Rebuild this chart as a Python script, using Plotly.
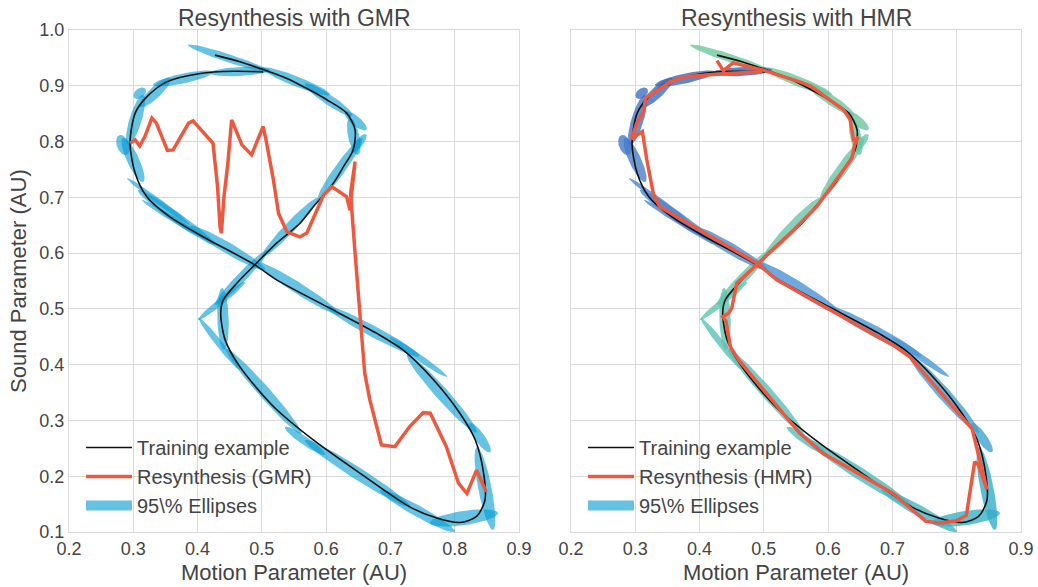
import numpy as np
import plotly.graph_objects as go
from plotly.colors import sample_colorscale

# Training trajectory (motion parameter, sound parameter)
train_x = [0.427, 0.466, 0.497, 0.539, 0.570, 0.601, 0.632, 0.645, 0.642, 0.627, 0.611, 0.580,
           0.559, 0.523, 0.489, 0.461, 0.440, 0.436, 0.443, 0.466, 0.518, 0.580, 0.653, 0.730,
           0.772, 0.808, 0.834, 0.847, 0.845, 0.832, 0.808, 0.767, 0.720, 0.679, 0.601, 0.523,
           0.489, 0.409, 0.357, 0.321, 0.303, 0.295, 0.303, 0.321, 0.352, 0.404, 0.456, 0.502]
train_y = [0.955, 0.943, 0.931, 0.913, 0.895, 0.875, 0.851, 0.821, 0.785, 0.755, 0.725, 0.683,
           0.653, 0.618, 0.579, 0.546, 0.516, 0.492, 0.444, 0.396, 0.325, 0.265, 0.205, 0.145,
           0.125, 0.117, 0.128, 0.157, 0.205, 0.265, 0.313, 0.373, 0.426, 0.456, 0.504, 0.552,
           0.579, 0.629, 0.665, 0.701, 0.743, 0.797, 0.851, 0.880, 0.907, 0.922, 0.926, 0.925]

# Resynthesis with GMR
gmr_x = [0.295, 0.303, 0.310, 0.318, 0.329, 0.336, 0.353, 0.362, 0.386, 0.393, 0.424, 0.431,
         0.435, 0.437, 0.441, 0.447, 0.453, 0.469, 0.484, 0.502, 0.507, 0.518, 0.526, 0.539,
         0.559, 0.570, 0.596, 0.609, 0.632, 0.637, 0.645, 0.638, 0.645, 0.652, 0.655, 0.660,
         0.668, 0.686, 0.707, 0.730, 0.751, 0.762, 0.787, 0.806, 0.819, 0.834, 0.849]
gmr_y = [0.797, 0.803, 0.792, 0.809, 0.842, 0.833, 0.784, 0.785, 0.833, 0.837, 0.797, 0.720,
         0.647, 0.636, 0.700, 0.760, 0.839, 0.794, 0.776, 0.827, 0.800, 0.731, 0.671, 0.638,
         0.629, 0.636, 0.704, 0.719, 0.701, 0.677, 0.764, 0.707, 0.600, 0.490, 0.462, 0.385,
         0.337, 0.256, 0.253, 0.289, 0.314, 0.313, 0.253, 0.187, 0.169, 0.211, 0.172]

# Resynthesis with HMR
hmr_x = [0.427, 0.437, 0.452, 0.499, 0.556, 0.572, 0.624, 0.634, 0.640, 0.647, 0.641, 0.637,
         0.582, 0.566, 0.546, 0.486, 0.458, 0.450, 0.445, 0.436, 0.441, 0.448, 0.461, 0.556,
         0.592, 0.701, 0.752, 0.774, 0.800, 0.815, 0.828, 0.834, 0.847, 0.824, 0.727, 0.701,
         0.600, 0.520, 0.489, 0.338, 0.328, 0.318, 0.311, 0.294, 0.302, 0.313, 0.316, 0.354,
         0.375, 0.442, 0.497]
hmr_y = [0.945, 0.927, 0.941, 0.928, 0.907, 0.900, 0.857, 0.840, 0.800, 0.808, 0.794, 0.770,
         0.683, 0.665, 0.641, 0.576, 0.546, 0.501, 0.492, 0.486, 0.478, 0.432, 0.408, 0.277,
         0.241, 0.169, 0.119, 0.116, 0.120, 0.130, 0.226, 0.220, 0.176, 0.285, 0.414, 0.435,
         0.500, 0.552, 0.582, 0.683, 0.707, 0.767, 0.818, 0.805, 0.832, 0.854, 0.878, 0.907,
         0.916, 0.922, 0.925]

# 95% confidence ellipses of the model states, in time order:
# centre, semi-major, semi-minor, orientation (degrees)
ell_cx = [0.449, 0.553, 0.604, 0.646, 0.643, 0.651, 0.6216, 0.5438, 0.4683, 0.4373, 0.4396,
          0.4341, 0.503, 0.5671, 0.6488, 0.742, 0.8144, 0.847, 0.8392, 0.780, 0.7436, 0.6725,
          0.557, 0.4466, 0.3672, 0.3392, 0.3642, 0.2996, 0.284, 0.3035, 0.310, 0.3338, 0.3774,
          0.466]
ell_cy = [0.949, 0.908, 0.875, 0.837, 0.809, 0.797, 0.7508, 0.6459, 0.5563, 0.5142, 0.4819,
          0.4371, 0.352, 0.2632, 0.2050, 0.1377, 0.1252, 0.178, 0.2691, 0.348, 0.4137, 0.460,
          0.5366, 0.6092, 0.6639, 0.6926, 0.6594, 0.767, 0.7938, 0.8387, 0.8866, 0.888, 0.913,
          0.9256]
ell_a = [0.0682, 0.0582, 0.0465, 0.023, 0.0337, 0.0195, 0.0653, 0.0685, 0.0642, 0.050, 0.0556,
         0.0565, 0.096, 0.040, 0.1014, 0.0694, 0.0537, 0.0754, 0.0306, 0.0884, 0.057, 0.0853,
         0.0802, 0.0704, 0.0776, 0.0646, 0.062, 0.0424, 0.0187, 0.0463, 0.0118, 0.0349, 0.0481,
         0.0468]
ell_b = [0.0072, 0.0088, 0.0088, 0.008, 0.0088, 0.0064, 0.0088, 0.0088, 0.008, 0.0056, 0.0088,
         0.0056, 0.0096, 0.0072, 0.0104, 0.0096, 0.0128, 0.0104, 0.008, 0.0104, 0.0056, 0.0096,
         0.0096, 0.0096, 0.0088, 0.0048, 0.0048, 0.0096, 0.0096, 0.0096, 0.008, 0.0096, 0.0088,
         0.008]
ell_ang = [-20.8, -24.6, -38.1, -44.6, -79.4, 56.0, 58.4, 50.5, 50.1, 43.0, 91.6, -55.6, -52.6,
           -38.9, -36.3, -32.8, 9.6, -80.5, -59.4, -52.4, -38.9, -31.8, -36.3, -34.1, -39.5,
           -40.7, -35.3, -68.5, -74.0, 75.4, 49.0, 48.0, 14.0, 3.3]

x_ticks = [0.2, 0.3, 0.4, 0.5, 0.6, 0.7, 0.8, 0.9]
y_ticks = [0.1, 0.2, 0.3, 0.4, 0.5, 0.6, 0.7, 0.8, 0.9, 1.0]

FONT = "Liberation Sans, Arial, sans-serif"
TEXT = "#444444"
GRID = "#dadada"
RED = "#EE583E"
ELL_BLUE = "rgba(0,155,210,0.6)"
time_scale = [[0.00, "rgb(110,200,155)"], [0.25, "rgb(100,198,170)"], [0.40, "rgb(80,190,190)"],
              [0.50, "rgb(50,175,200)"], [0.60, "rgb(70,155,215)"], [0.80, "rgb(75,130,205)"],
              [1.00, "rgb(55,100,185)"]]


def ellipse_outline(cx, cy, a, b, ang, n=80):
    t = np.linspace(0, 2 * np.pi, n)
    th = np.deg2rad(ang)
    x = cx + a * np.cos(t) * np.cos(th) - b * np.sin(t) * np.sin(th)
    y = cy + a * np.cos(t) * np.sin(th) + b * np.sin(t) * np.cos(th)
    return x, y


fig = go.Figure()
n_ell = len(ell_cx)
right_cols = sample_colorscale(time_scale, [i / (n_ell - 1) for i in range(n_ell)])

panels = [
    ("x", "y", "legend", gmr_x, gmr_y, "Resynthesis (GMR)", [ELL_BLUE] * n_ell, 1.0),
    ("x2", "y2", "legend2", hmr_x, hmr_y, "Resynthesis (HMR)", right_cols, 0.8),
]

for xa, ya, leg, rx, ry, rname, cols, op in panels:
    for i in range(n_ell):
        ex, ey = ellipse_outline(ell_cx[i], ell_cy[i], ell_a[i], ell_b[i], ell_ang[i])
        fig.add_trace(go.Scatter(x=ex, y=ey, mode="lines", fill="toself", fillcolor=cols[i],
                                 line=dict(width=0), opacity=op, showlegend=False,
                                 hoverinfo="skip", xaxis=xa, yaxis=ya))
    fig.add_trace(go.Scatter(x=train_x, y=train_y, mode="lines", name="Training example",
                             line=dict(color="#111111", width=1.6, shape="spline", smoothing=0.8),
                             xaxis=xa, yaxis=ya, legend=leg, legendrank=1, legendgroup="g1"))
    fig.add_trace(go.Scatter(x=rx, y=ry, mode="lines", name=rname,
                             line=dict(color=RED, width=3.5),
                             xaxis=xa, yaxis=ya, legend=leg, legendrank=2, legendgroup="g2"))
    fig.add_trace(go.Scatter(x=[None], y=[None], mode="lines",
                             line=dict(width=14, color="rgb(102,194,227)"),
                             name="95\\% Ellipses", xaxis=xa, yaxis=ya, legend=leg,
                             legendrank=3, legendgroup="g3"))

W, H = 1038, 587
PL, PR, PT, PB = 69, 1021, 30, 532          # plot-area edges in pixels
PW, PH = PR - PL, PB - PT


def px(x):
    return (x - PL) / PW


def py(y):
    return (PB - y) / PH


axis_common = dict(range=[0.2, 0.9], tickvals=x_ticks, ticktext=[f"{v:.1f}" for v in x_ticks],
                   showgrid=True, gridcolor=GRID, gridwidth=1, zeroline=False,
                   showline=True, linecolor=GRID, mirror=True, ticks="",
                   tickfont=dict(family=FONT, size=18, color=TEXT))
yaxis_common = dict(range=[0.1, 1.0], tickvals=y_ticks, ticktext=[f"{v:.1f}" for v in y_ticks],
                    showgrid=True, gridcolor=GRID, gridwidth=1, zeroline=False,
                    showline=True, linecolor=GRID, mirror=True, ticks="",
                    tickfont=dict(family=FONT, size=18, color=TEXT))

legend_common = dict(bgcolor="rgba(255,255,255,0)", borderwidth=0, itemwidth=46,
                     font=dict(family=FONT, size=20, color=TEXT),
                     xanchor="left", yanchor="top", tracegroupgap=0)

title_font = dict(family=FONT, size=23, color=TEXT)
label_font = dict(family=FONT, size=22, color=TEXT)

fig.update_layout(
    width=W, height=H,
    margin=dict(l=PL, r=W - PR, t=PT, b=H - PB, autoexpand=False),
    paper_bgcolor="white", plot_bgcolor="white",
    xaxis=dict(domain=[0, 450 / PW], anchor="y", **axis_common),
    xaxis2=dict(domain=[502 / PW, 1], anchor="y2", **axis_common),
    yaxis=dict(domain=[0, 1], anchor="x", **yaxis_common),
    yaxis2=dict(domain=[0, 1], anchor="x2", matches="y", showticklabels=False,
                **{k: v for k, v in yaxis_common.items() if k != "tickfont"}),
    legend=dict(x=px(81), y=py(428), **legend_common),
    legend2=dict(x=px(583), y=py(428), **legend_common),
    annotations=[
        dict(text="Resynthesis with GMR", x=px(294), y=py(18), xref="paper", yref="paper",
             xanchor="center", yanchor="middle", showarrow=False, font=title_font),
        dict(text="Resynthesis with HMR", x=px(796), y=py(18), xref="paper", yref="paper",
             xanchor="center", yanchor="middle", showarrow=False, font=title_font),
        dict(text="Motion Parameter (AU)", x=px(294), y=py(572), xref="paper", yref="paper",
             xanchor="center", yanchor="middle", showarrow=False, font=label_font),
        dict(text="Motion Parameter (AU)", x=px(796), y=py(572), xref="paper", yref="paper",
             xanchor="center", yanchor="middle", showarrow=False, font=label_font),
        dict(text="Sound Parameter (AU)", x=px(18), y=py(281), xref="paper", yref="paper",
             xanchor="center", yanchor="middle", showarrow=False, textangle=-90,
             font=label_font),
    ],
)

fig.write_html("out.html")
